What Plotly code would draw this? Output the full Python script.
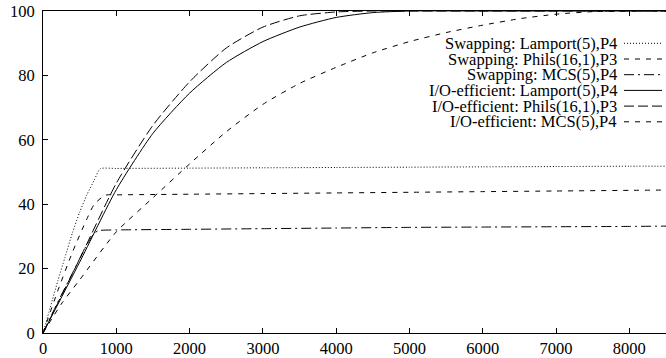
import plotly.graph_objects as go

# --- data ---
sw_lamport_x = [0, 100, 200, 300, 400, 500, 600, 700, 780, 1000, 2000, 3000, 4000, 5000, 6000, 7000, 8000, 8500]
sw_lamport_y = [0, 8, 16, 23.5, 31, 37.5, 43, 47.5, 51, 51.1, 51.2, 51.3, 51.4, 51.5, 51.6, 51.7, 51.8, 51.8]

sw_phils_x = [0, 200, 400, 600, 700, 850, 1000, 2000, 3000, 4000, 5000, 6000, 7000, 8000, 8500]
sw_phils_y = [0, 13, 25, 35.5, 40, 42.8, 42.9, 43.1, 43.3, 43.5, 43.7, 43.9, 44.1, 44.3, 44.4]

sw_mcs_x = [0, 200, 400, 600, 700, 760, 1000, 2000, 3000, 4000, 5000, 6000, 7000, 8000, 8500]
sw_mcs_y = [0, 9.5, 18.5, 27.5, 31, 31.8, 32.0, 32.2, 32.4, 32.6, 32.8, 32.9, 33.0, 33.1, 33.2]

io_lamport_x = [0, 500, 1000, 1500, 2000, 2500, 3000, 3500, 4000, 4500, 5000, 6000, 7000, 8000, 8500]
io_lamport_y = [0, 22, 44.5, 62, 74.5, 84, 90.5, 95, 98, 99.5, 100, 100, 100, 100, 100]

io_phils_x = [0, 500, 1000, 1500, 2000, 2500, 3000, 3500, 4000, 4500, 5000, 6000, 7000, 8000, 8500]
io_phils_y = [0, 23, 46.5, 64.5, 78, 88.5, 95, 98.5, 99.7, 100, 100, 100, 100, 100, 100]

io_mcs_x = [0, 250, 500, 1000, 1500, 2000, 2500, 3000, 3500, 4000, 4500, 5000, 5500, 6000, 6500, 7000, 7500, 8000, 8500]
io_mcs_y = [0, 9, 16.5, 31.4, 42, 52.5, 62.5, 71, 77.5, 82.5, 87, 90.5, 93.3, 95.6, 97.6, 99, 99.8, 100, 100]

names = [
    "Swapping: Lamport(5),P4",
    "Swapping: Phils(16,1),P3",
    "Swapping: MCS(5),P4",
    "I/O-efficient: Lamport(5),P4",
    "I/O-efficient: Phils(16,1),P3",
    "I/O-efficient: MCS(5),P4",
]
x_ticks = [0, 1000, 2000, 3000, 4000, 5000, 6000, 7000, 8000]
y_ticks = [0, 20, 40, 60, 80, 100]

# --- styles ---
dashes = ["1px,2px", "5px,6px", "10px,4px,2px,4px", "solid", "10px,4px", "5px,6px"]
series = [
    (sw_lamport_x, sw_lamport_y),
    (sw_phils_x, sw_phils_y),
    (sw_mcs_x, sw_mcs_y),
    (io_lamport_x, io_lamport_y),
    (io_phils_x, io_phils_y),
    (io_mcs_x, io_mcs_y),
]

fig = go.Figure()
for (xs, ys), name, dash in zip(series, names, dashes):
    fig.add_trace(go.Scatter(x=xs, y=ys, mode="lines", name=name,
                             line=dict(color="black", width=1, dash=dash, shape="spline", smoothing=0.6),
                             showlegend=False, hoverinfo="skip"))

font = dict(family="Liberation Serif, Times New Roman, serif", size=16.5, color="black")
W, H = 666, 358
ml, mr, mt, mb = 43, 0, 11, 25
pw, ph = W - ml - mr, H - mt - mb
def px_to_paper_x(px):
    return (px - ml) / pw
def py_to_paper_y(py):
    return 1 - (py - mt) / ph

legend_y0 = 43.3
legend_dy = 15.7
for i, (name, dash) in enumerate(zip(names, dashes)):
    yy = py_to_paper_y(legend_y0 + i * legend_dy)
    fig.add_annotation(x=px_to_paper_x(618), y=yy, xref="paper", yref="paper",
                       text=name, showarrow=False, xanchor="right", yanchor="middle",
                       font=font, borderpad=0)
    fig.add_shape(type="line", xref="paper", yref="paper",
                  x0=px_to_paper_x(624), x1=px_to_paper_x(662), y0=yy, y1=yy,
                  line=dict(color="black", width=1, dash=dash))

fig.update_layout(
    width=W, height=H,
    margin=dict(l=ml, r=mr, t=mt, b=mb, pad=0, autoexpand=False),
    paper_bgcolor="white", plot_bgcolor="white",
    font=font,
    showlegend=False,
)
fig.update_xaxes(range=[0, 8500], tickvals=x_ticks, ticktext=[str(v) for v in x_ticks],
                 showgrid=False, zeroline=False, showline=True, linecolor="black", linewidth=1,
                 mirror="ticks", ticks="inside", ticklen=5, tickcolor="black",
                 ticklabelstandoff=0, automargin=False)
fig.update_yaxes(range=[0, 100], tickvals=y_ticks, ticktext=[str(v) for v in y_ticks],
                 showgrid=False, zeroline=False, showline=True, linecolor="black", linewidth=1,
                 mirror=False, ticks="inside", ticklen=5, tickcolor="black",
                 ticklabelstandoff=4, automargin=False)

fig.write_html("out.html", config={"displayModeBar": False},
               post_script="document.body.style.margin='0';document.body.style.overflow='hidden';")
